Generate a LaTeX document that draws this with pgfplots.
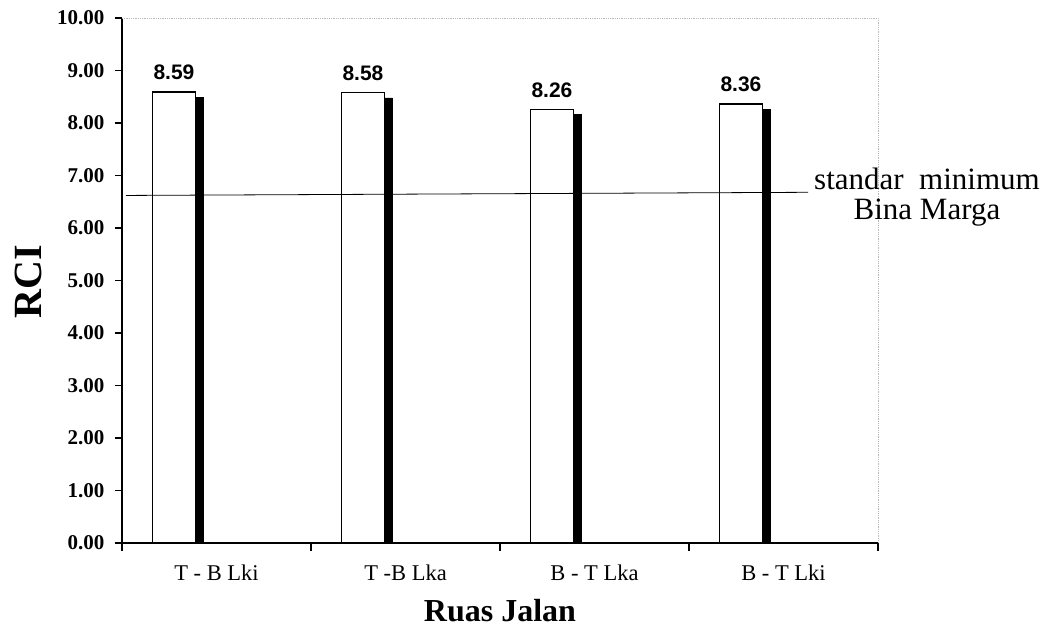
\documentclass[border=0pt]{standalone}
\usepackage{fontspec}
\setmainfont{Liberation Serif}
\newfontfamily\arial{Liberation Sans}
\usepackage{pgfplots}
\pgfplotsset{compat=1.18}
\begin{document}
\begin{tikzpicture}[x=1pt,y=1pt]
\useasboundingbox (0,0) rectangle (1047,632);
\begin{axis}[
  at={(122pt,89pt)}, anchor=south west,
  scale only axis, width=756pt, height=525pt,
  xmin=0, xmax=4, ymin=0, ymax=10,
  axis lines*=left,
  axis line style={line width=1.4pt, black},
  ytick={0,1,...,10},
  yticklabel={\pgfmathprintnumber[fixed,fixed zerofill,precision=2,assume math mode=true]{\tick}},
  yticklabel style={font=\bfseries\fontsize{21}{21}\selectfont, xshift=-7pt},
  tick align=outside,
  major tick length=7pt,
  tick style={line width=1.2pt, black},
  xtick={0.5,1.5,2.5,3.5},
  xticklabels={T - B Lki, T -B Lka, B - T Lka, B - T Lki},
  x tick style={draw=none},
  xticklabel style={font=\fontsize{22.5}{22.5}\selectfont, yshift=-11pt},
  extra x ticks={0,1,2,3,4},
  extra x tick labels={},
  extra x tick style={x tick style={draw=black, line width=1.2pt}, major tick length=8pt},
  xlabel={Ruas Jalan},
  xlabel style={font=\bfseries\fontsize{32}{32}\selectfont, at={(axis description cs:0.5,-0.128)}, anchor=center},
  ylabel={RCI},
  ylabel style={font=\bfseries\fontsize{40}{40}\selectfont, at={(axis description cs:-0.124,0.497)}, anchor=center, rotate=0},
  clip=false,
]
\draw[gray!55, densely dotted, line width=0.8pt] (axis cs:0,10) -- (axis cs:4,10) -- (axis cs:4,0);
% shadow (3D depth)
\addplot[ybar, bar width=0.23, bar shift=0pt, fill=black, draw=black]
  coordinates {(0.315,8.49) (1.315,8.48) (2.315,8.16) (3.315,8.26)};
% white bars
\addplot[ybar, bar width=0.23, bar shift=0pt, fill=white, draw=black, line width=1.3pt,
  nodes near coords, point meta=explicit symbolic,
  every node near coord/.append style={font=\arial\bfseries\fontsize{21}{21}\selectfont, black, yshift=8pt}]
  coordinates {(0.275,8.59)[8.59] (1.275,8.58)[8.58] (2.275,8.26)[8.26] (3.275,8.36)[8.36]};
% standard minimum line
\addplot[black, line width=0.8pt] coordinates {(0.02,6.62) (3.63,6.68)};
\end{axis}
\node[align=center, font=\fontsize{31}{30}\selectfont] at (927,435) {standar\ \ minimum\\Bina Marga};
\end{tikzpicture}
\end{document}
